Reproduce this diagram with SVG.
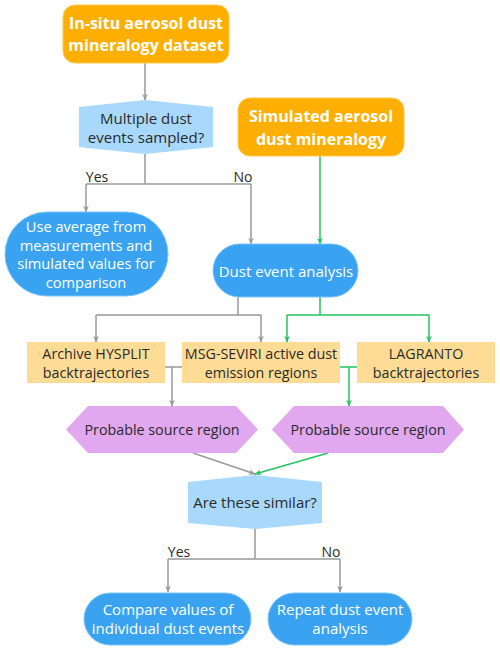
<svg xmlns="http://www.w3.org/2000/svg" width="500" height="651" viewBox="0 0 500 651">
<style>
.or{fill:#FFAF03;stroke:#FFC94D;stroke-width:1}
.pill{fill:#39A3F2;stroke:#7CC4F7;stroke-width:1}
.dec{fill:#A8D9FC}
.yb{fill:#FFDC95}
.hex{fill:#E1A8EF}
.tw{font-family:"Open Sans","Liberation Sans",sans-serif;fill:#fff;text-anchor:middle;dominant-baseline:central}
.tb{font-family:"Open Sans","Liberation Sans",sans-serif;fill:#2a2a2a;text-anchor:middle;dominant-baseline:central}
.bold{font-weight:700;font-size:16px}
.n{font-size:14px}
.m{font-size:15px}
.ms{font-size:14.6px}
.s{font-size:14.3px}
.g{stroke:#999;stroke-width:1.5;fill:none}
.gr{stroke:#22C55E;stroke-width:1.5;fill:none}
</style>
<defs>
<marker id="ag" viewBox="0 0 10 10" refX="9" refY="5" markerWidth="7" markerHeight="7" markerUnits="userSpaceOnUse" orient="auto"><path d="M0,1 L10,5 L0,9 L3,5 Z" fill="#999"/></marker>
<marker id="agr" viewBox="0 0 10 10" refX="9" refY="5" markerWidth="7" markerHeight="7" markerUnits="userSpaceOnUse" orient="auto"><path d="M0,1 L10,5 L0,9 L3,5 Z" fill="#22C55E"/></marker>
</defs>
<rect width="500" height="651" fill="#fff"/>
<g id="connectors">
<path class="g" d="M145,63 V100" marker-end="url(#ag)"/>
<path class="g" d="M145,154 V184 M86,184 H251"/>
<path class="g" d="M86,184 V212" marker-end="url(#ag)"/>
<path class="g" d="M251,184 V244" marker-end="url(#ag)"/>
<path class="gr" d="M320,156 V244" marker-end="url(#agr)"/>
<path class="g" d="M238,297 V315 M96,315 H261"/>
<path class="g" d="M96,315 V342" marker-end="url(#ag)"/>
<path class="g" d="M261,315 V342" marker-end="url(#ag)"/>
<path class="gr" d="M320,297 V315 M287,315 H429"/>
<path class="gr" d="M287,315 V342" marker-end="url(#agr)"/>
<path class="gr" d="M429,315 V342" marker-end="url(#agr)"/>
<path class="g" d="M165,367 H182 M172,367 V406" marker-end="url(#ag)"/>
<path class="gr" d="M340,367 H357 M349,367 V406" marker-end="url(#agr)"/>
<path class="g" d="M193,453 L255,474" marker-end="url(#ag)"/>
<path class="gr" d="M328,453 L255,474" marker-end="url(#agr)"/>
<path class="g" d="M255,529 V559 M168,559 H340"/>
<path class="g" d="M168,559 V592" marker-end="url(#ag)"/>
<path class="g" d="M340,559 V592" marker-end="url(#ag)"/>
<text class="tb n" x="97" y="176">Yes</text>
<text class="tb n" x="243" y="176">No</text>
<text class="tb n" x="179" y="551">Yes</text>
<text class="tb n" x="331" y="551">No</text>
</g>
<g id="n1">
<rect class="or" x="63" y="5" width="166" height="58" rx="12"/>
<text class="tw bold" x="146" y="23">In-situ aerosol dust</text>
<text class="tw bold" x="146" y="45">mineralogy dataset</text>
</g>
<g id="d1">
<path class="dec" d="M79,107 L145,100 L213,107 V147 L145,154 L79,147 Z"/>
<text class="tb m" x="146" y="118">Multiple dust</text>
<text class="tb m" x="146" y="137">events sampled?</text>
</g>
<g id="n2">
<rect class="or" x="238" y="98" width="166" height="58" rx="12"/>
<text class="tw bold" x="321" y="116">Simulated aerosol</text>
<text class="tw bold" x="321" y="139">dust mineralogy</text>
</g>
<g id="n3">
<rect class="pill" x="5" y="212" width="163" height="84" rx="42"/>
<text class="tw ms" x="86" y="226">Use average from</text>
<text class="tw ms" x="86" y="244.7">measurements and</text>
<text class="tw ms" x="86" y="263.4">simulated values for</text>
<text class="tw ms" x="86" y="282.1">comparison</text>
</g>
<g id="n4">
<rect class="pill" x="213" y="244" width="145" height="53" rx="26.5"/>
<text class="tw m" x="286" y="271">Dust event analysis</text>
</g>
<g id="b1">
<rect class="yb" x="27" y="342" width="138" height="41"/>
<text class="tb s" x="96" y="353.5">Archive HYSPLIT</text>
<text class="tb s" x="96" y="372">backtrajectories</text>
</g>
<g id="b2">
<rect class="yb" x="182" y="342" width="158" height="41"/>
<text class="tb s" x="261" y="353.5">MSG-SEVIRI active dust</text>
<text class="tb s" x="261" y="372">emission regions</text>
</g>
<g id="b3">
<rect class="yb" x="357" y="342" width="138" height="41"/>
<text class="tb s" x="426" y="353.5">LAGRANTO</text>
<text class="tb s" x="426" y="372">backtrajectories</text>
</g>
<g id="h1">
<path class="hex" d="M66,429.5 L88,406 H236 L258,429.5 L236,453 H88 Z"/>
<text class="tb s" x="162" y="429">Probable source region</text>
</g>
<g id="h2">
<path class="hex" d="M272,429.5 L294,406 H443 L464,429.5 L443,453 H294 Z"/>
<text class="tb s" x="368" y="429">Probable source region</text>
</g>
<g id="d2">
<path class="dec" d="M188,482 L255,475 L322,482 V523 L255,529 L188,523 Z"/>
<text class="tb m" x="255" y="502">Are these similar?</text>
</g>
<g id="n5">
<rect class="pill" x="84" y="593" width="167" height="52" rx="26"/>
<text class="tw m" x="168" y="609">Compare values of</text>
<text class="tw m" x="168" y="628">individual dust events</text>
</g>
<g id="n6">
<rect class="pill" x="268" y="593" width="144" height="52" rx="26"/>
<text class="tw m" x="340" y="609">Repeat dust event</text>
<text class="tw m" x="340" y="628">analysis</text>
</g>
</svg>
